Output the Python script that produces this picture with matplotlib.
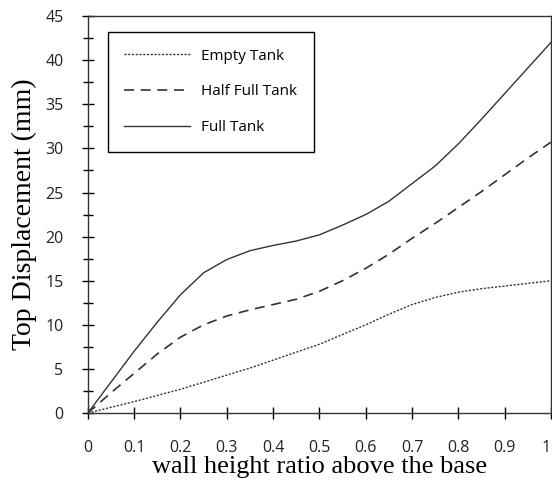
import numpy as np
import matplotlib
matplotlib.use('Agg')
import matplotlib.pyplot as plt
from matplotlib.ticker import MultipleLocator

ratio = [0, 0.05, 0.1, 0.15, 0.2, 0.25, 0.3, 0.35, 0.4, 0.45, 0.5,
         0.55, 0.6, 0.65, 0.7, 0.75, 0.8, 0.85, 0.9, 0.95, 1.0]
empty_tank = [0, 0.65, 1.3, 2.0, 2.7, 3.5, 4.3, 5.1, 6.0, 6.9, 7.8,
              8.9, 10.0, 11.2, 12.3, 13.1, 13.7, 14.1, 14.4, 14.7, 15.0]
half_tank = [0, 2.3, 4.5, 6.7, 8.6, 10.0, 11.0, 11.7, 12.3, 12.9, 13.8,
             15.0, 16.4, 18.0, 19.8, 21.5, 23.3, 25.1, 27.0, 28.9, 30.7]
full_tank = [0, 3.5, 7.0, 10.3, 13.4, 15.9, 17.4, 18.4, 19.0, 19.5, 20.2,
             21.3, 22.5, 24.0, 26.0, 28.0, 30.5, 33.3, 36.2, 39.1, 42.0]

fig = plt.figure(figsize=(5.52, 4.86), dpi=100)
ax = fig.add_axes([0.159, 0.150, 0.839, 0.817])

ax.plot(ratio, empty_tank, color='#333333', linestyle=(0, (1.5, 1.2)), linewidth=1.0, label='Empty Tank')
ax.plot(ratio, half_tank, color='#333333', linestyle=(0, (6, 4)), linewidth=1.2, label='Half Full Tank')
ax.plot(ratio, full_tank, color='#333333', linestyle='-', linewidth=1.0, label='Full Tank')

ax.set_xlim(0, 1)
ax.set_ylim(0, 45)
ax.yaxis.set_major_locator(MultipleLocator(5))
ax.yaxis.set_minor_locator(MultipleLocator(2.5))
ax.set_xticks(np.arange(0, 1.01, 0.1))
ax.set_xticklabels(['0', '0.1', '0.2', '0.3', '0.4', '0.5', '0.6', '0.7', '0.8', '0.9', '1'])

ax.tick_params(axis='both', which='both', direction='inout', color='black', width=1.0,
               labelsize=11.5, labelcolor='#222222')
ax.tick_params(axis='y', which='major', length=9, pad=13)
ax.tick_params(axis='y', which='minor', length=7)
ax.tick_params(axis='x', which='major', length=9, pad=15)
for lab in ax.get_xticklabels() + ax.get_yticklabels():
    lab.set_family('Open Sans')
ax.get_xticklabels()[-1].set_horizontalalignment('right')

for sp in ax.spines.values():
    sp.set_color('#333333')
    sp.set_linewidth(1.0)

ax.set_xlabel('wall height ratio above the base', family='Liberation Serif', fontsize=19, labelpad=0)
ax.set_ylabel('Top Displacement (mm)', family='Liberation Serif', fontsize=20, labelpad=6)

leg = ax.legend(loc='upper left', bbox_to_anchor=(0.043, 0.96), prop={'family': 'Open Sans', 'size': 11},
                handlelength=4.3, handletextpad=0.7, labelspacing=1.35, borderpad=1.1,
                fancybox=False, framealpha=1, edgecolor='black', borderaxespad=0)
leg.get_frame().set_linewidth(1.0)

fig.savefig('out.png', dpi=100)
